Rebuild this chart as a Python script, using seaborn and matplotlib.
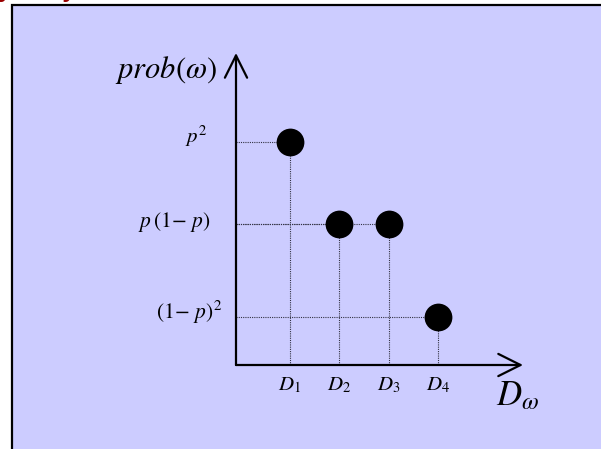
import matplotlib
matplotlib.use("Agg")
import matplotlib.pyplot as plt
import matplotlib.patches as mpatches
import seaborn as sns
import pandas as pd

# ---- data ----
outcomes = ["D1", "D2", "D3", "D4"]
x_pos = [1, 2, 3, 4]
probs = [0.46, 0.29, 0.29, 0.10]
x_labels = [r"$D_1$", r"$D_2$", r"$D_3$", r"$D_4$"]
level_values = [0.46, 0.29, 0.10]
level_labels = [r"$p^2$", r"$p\,(1\!-\,p)$", r"$(1\!-\,p)^2$"]

sns.set_theme(style="white")
plt.rcParams["mathtext.fontset"] = "stix"
plt.rcParams["font.family"] = ["STIXGeneral", "DejaVu Sans"]
plt.rcParams["text.color"] = "black"

W, H = 601, 449
fig = plt.figure(figsize=(W / 100, H / 100), dpi=100)
fig.patch.set_facecolor("white")

# background panel with border
bg = mpatches.Rectangle((11.5 / W, -0.1), 1.2, (H - 5.5) / H + 0.1,
                        transform=fig.transFigure, facecolor="#CCCCFF",
                        edgecolor="black", linewidth=1.6, zorder=-10)
fig.patches.append(bg)

# cut-off title at top
fig.text(-2 / W, 1 + 3.0 / H, "y of System Outcome and Situation Varieties",
         color="#990000", fontsize=17, fontweight="bold",
         family=["Liberation Sans", "DejaVu Sans"], ha="left", va="baseline",
         zorder=-5)

# axes placement (pixels)
ax_left, ax_bottom_px, ax_w, ax_h = 236, 365, 287, 312
ax = fig.add_axes([ax_left / W, (H - ax_bottom_px) / H, ax_w / W, ax_h / H])
ax.set_facecolor("none")
ax.set_zorder(5)
px_per_x = 49.33
xmin = 1 - 54 / px_per_x
ax.set_xlim(xmin, xmin + ax_w / px_per_x)
ax.set_ylim(0, ax_h / 485.0)
for s in ax.spines.values():
    s.set_visible(False)
ax.set_xticks([])
ax.set_yticks([])

df = pd.DataFrame({"outcome": outcomes, "x": x_pos, "prob": probs})

# dotted guide lines
for xv, yv in zip(x_pos, probs):
    ax.plot([xmin, xv], [yv, yv], color="#333344", lw=0.8,
            linestyle=(0, (1, 1)), zorder=1)
    ax.plot([xv, xv], [0, yv], color="#333344", lw=0.8,
            linestyle=(0, (1, 1)), zorder=1)

sns.scatterplot(data=df, x="x", y="prob", s=400, color="black",
                edgecolor="black", linewidth=0, ax=ax, zorder=3, legend=False)
ax.set_xlabel("")
ax.set_ylabel("")

# axis arrows
arrow_kw = dict(arrowstyle="->,head_length=0.8,head_width=0.4",
                lw=1.6, color="black", shrinkA=0, shrinkB=0,
                mutation_scale=20)
ax.annotate("", xy=(1, 0), xytext=(0, 0), xycoords="axes fraction",
            textcoords="axes fraction", arrowprops=arrow_kw, annotation_clip=False)
ax.annotate("", xy=(0, 1), xytext=(0, 0), xycoords="axes fraction",
            textcoords="axes fraction", arrowprops=arrow_kw, annotation_clip=False)

# x labels
xt = ax.get_xaxis_transform()
for xv, lab in zip(x_pos, x_labels):
    ax.text(xv, -20 / ax_h, lab, transform=xt, ha="center", va="center",
            fontsize=15, color="black", clip_on=False)
ax.text(xmin + (518 - ax_left) / px_per_x, -32 / ax_h, r"$D_\omega$",
        transform=xt, ha="center", va="center", fontsize=25, color="black",
        clip_on=False)

# y labels
yt = ax.get_yaxis_transform()
ax.text(-40 / ax_w, level_values[0] + 6 / 485, level_labels[0], transform=yt,
        ha="center", va="center", fontsize=15, color="black", clip_on=False)
ax.text(-25 / ax_w, level_values[1] + 2 / 485, level_labels[1], transform=yt,
        ha="right", va="center", fontsize=15.5, color="black", clip_on=False)
ax.text(-14 / ax_w, level_values[2] + 4 / 485, level_labels[2], transform=yt,
        ha="right", va="center", fontsize=15.5, color="black", clip_on=False)

# y axis title
ax.text(-70 / ax_w, 1 - 17 / ax_h, r"$prob(\omega)$", transform=ax.transAxes,
        ha="center", va="center", fontsize=22, color="black", clip_on=False)

fig.savefig("out.png", dpi=100)
